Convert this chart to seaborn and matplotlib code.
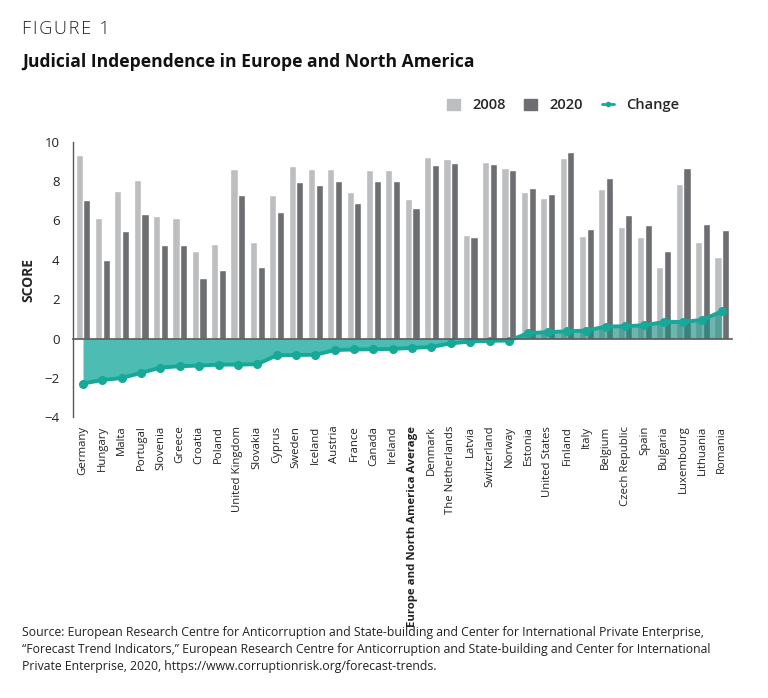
import matplotlib.pyplot as plt
import matplotlib.ticker as mticker
from matplotlib.patches import Patch
from matplotlib.lines import Line2D
import numpy as np
import pandas as pd
import seaborn as sns

# Data (sorted by change)
countries = ["Germany", "Hungary", "Malta", "Portugal", "Slovenia", "Greece", "Croatia",
             "Poland", "United Kingdom", "Slovakia", "Cyprus", "Sweden", "Iceland", "Austria",
             "France", "Canada", "Ireland", "Europe and North America Average", "Denmark",
             "The Netherlands", "Latvia", "Switzerland", "Norway", "Estonia", "United States",
             "Finland", "Italy", "Belgium", "Czech Republic", "Spain", "Bulgaria", "Luxembourg",
             "Lithuania", "Romania"]
score_2008 = [9.34, 6.13, 7.50, 8.05, 6.24, 6.14, 4.45, 4.82, 8.60, 4.92, 7.28, 8.78, 8.61,
              8.61, 7.43, 8.56, 8.54, 7.07, 9.20, 9.14, 5.28, 8.98, 8.66, 7.43, 7.12, 9.17,
              5.21, 7.58, 5.69, 5.16, 3.65, 7.87, 4.92, 4.16]
score_2020 = [7.06, 4.01, 5.48, 6.33, 4.75, 4.74, 3.08, 3.50, 7.28, 3.65, 6.43, 7.95, 7.80,
              8.02, 6.87, 8.02, 8.02, 6.61, 8.80, 8.90, 5.14, 8.88, 8.54, 7.65, 7.36, 9.49,
              5.57, 8.16, 6.26, 5.77, 4.43, 8.66, 5.84, 5.53]
change = [-2.28, -2.10, -2.00, -1.74, -1.47, -1.40, -1.37, -1.32, -1.32, -1.30, -0.85, -0.83,
          -0.82, -0.58, -0.55, -0.54, -0.52, -0.47, -0.42, -0.24, -0.15, -0.11, -0.10, 0.28,
          0.33, 0.37, 0.41, 0.61, 0.63, 0.68, 0.84, 0.85, 0.95, 1.39]
years = ["2008", "2020"]

c_2008 = "#bdbec0"
c_2020 = "#6d6e71"
c_fill = "#4dbdb4"
c_line = "#16a898"
c_axis = "#58595b"

df = pd.DataFrame({
    "country": countries * 2,
    "year": [years[0]] * len(countries) + [years[1]] * len(countries),
    "score": score_2008 + score_2020,
})

sns.set_style("white")
plt.rcParams["font.family"] = ["Open Sans", "DejaVu Sans"]

fig = plt.figure(figsize=(7.68, 6.98), dpi=100)
ax = fig.add_axes([0.0955, 0.402, 0.857, 0.395])

sns.barplot(data=df, x="country", y="score", hue="year", order=countries,
            palette=[c_2008, c_2020], width=0.8, gap=0.08, legend=False, ax=ax,
            saturation=1)

x = np.arange(len(countries))
chg = np.array(change)
# negative part solid, positive part laid over the bars
ax.fill_between(x, chg, 0, where=chg <= 0, interpolate=True, color=c_fill, lw=0, zorder=3)
ax.fill_between(x, chg, 0, where=chg >= 0, interpolate=True, color="#1f8f85", alpha=0.65,
                lw=0, zorder=3)
ax.plot(x, change, color=c_line, lw=2.8, marker="o", ms=5.5, zorder=4)

ax.set_xlim(-0.5, len(countries) - 0.5)
ax.set_ylim(-4, 10)
ax.set_yticks(range(-4, 11, 2))
ax.set_xlabel("")
ax.set_ylabel("SCORE", fontsize=10, fontweight="bold", labelpad=6)

for s in ["top", "right"]:
    ax.spines[s].set_visible(False)
ax.spines["left"].set_color(c_axis)
ax.spines["left"].set_linewidth(1)
ax.spines["bottom"].set_position(("data", 0))
ax.spines["bottom"].set_color(c_axis)
ax.spines["bottom"].set_linewidth(1.2)
ax.spines["bottom"].set_zorder(5)

ax.tick_params(axis="y", direction="in", length=12, width=1, color=c_axis,
               labelsize=9.5, pad=10, labelcolor="#222222")
ax.tick_params(axis="x", which="major", length=0, labelbottom=False)
ax.xaxis.set_minor_locator(mticker.FixedLocator(x[:-1] + 0.5))
ax.tick_params(axis="x", which="minor", direction="in", length=5, width=1, color="#333333")

sec = ax.secondary_xaxis("bottom")
sec.set_xticks(x)
sec.set_xticklabels(countries, rotation=90, fontsize=8.2, color="#222222")
sec.tick_params(length=0, pad=6)
sec.spines["bottom"].set_visible(False)
for lbl in sec.get_xticklabels():
    if lbl.get_text() == "Europe and North America Average":
        lbl.set_fontweight("bold")

handles = [Patch(color=c_2008, label="2008"), Patch(color=c_2020, label="2020"),
           Line2D([0], [0], color=c_line, lw=2, marker="o", ms=3, label="Change")]
fig.legend(handles=handles, loc="center right", bbox_to_anchor=(0.902, 0.849), ncol=3,
           frameon=False, handlelength=0.85, handleheight=0.85,
           columnspacing=1.3, handletextpad=0.85,
           prop={"weight": "semibold", "size": 10.5})

fig.text(0.029, 0.958, "F\u200aI\u200aG\u200aU\u200aR\u200aE\u2009 1", fontsize=13,
         color="#222222", va="center", fontweight="light")
fig.text(0.029, 0.911, "Judicial Independence in Europe and North America", fontsize=12.6,
         fontweight="bold", color="#111111", va="center")

source = ("Source: European Research Centre for Anticorruption and State-building and Center for International Private Enterprise,\n"
          "\u201cForecast Trend Indicators,\u201d European Research Centre for Anticorruption and State-building and Center for International\n"
          "Private Enterprise, 2020, https://www.corruptionrisk.org/forecast-trends.")
fig.text(0.029, 0.069, source, fontsize=8.85, color="#222222", va="center", linespacing=1.4)

fig.savefig("out.png", dpi=100)
